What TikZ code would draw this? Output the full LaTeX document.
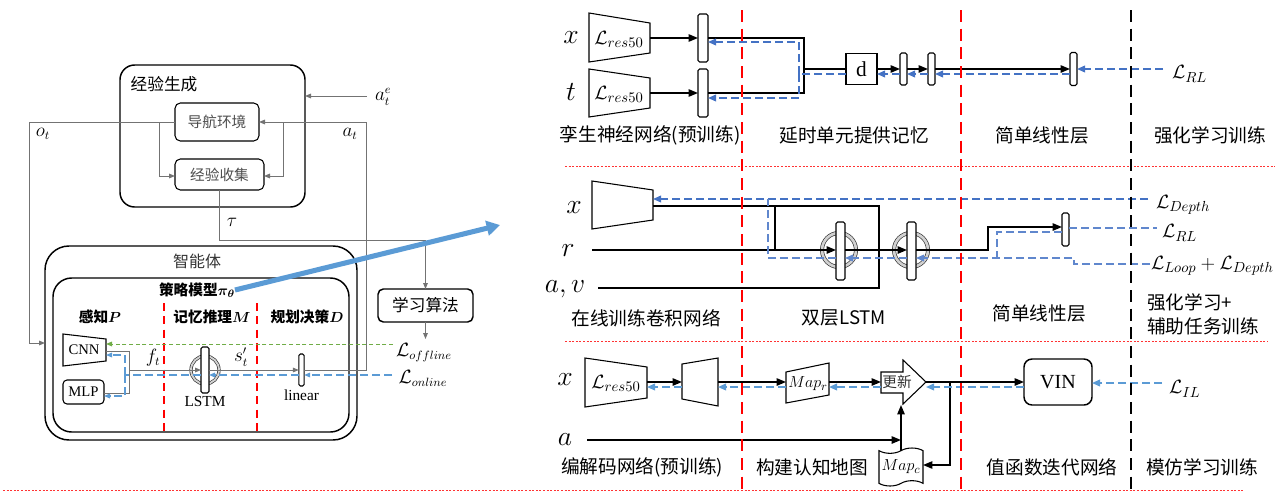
\documentclass[tikz,border=0pt]{standalone}
\usepackage{fontspec}
\usepackage{bm}
\setmainfont{Liberation Serif}
\newfontfamily\cjk{Noto Sans CJK SC}
\usetikzlibrary{arrows.meta,shapes.symbols}
\definecolor{lineblue}{RGB}{68,114,196}
\definecolor{lightblue}{RGB}{91,155,213}
\definecolor{offgreen}{RGB}{112,173,71}
\definecolor{guidered}{RGB}{255,0,0}
% recurrent-loop ring drawn behind an LSTM bar
\newcommand\lstmring[4]{%
  \draw[black!80, line width=#4] (#1,#2) circle[radius=#3];
  \draw[black!18, line width=#4-1pt] (#1,#2) circle[radius=#3];
}
\begin{document}
\begin{tikzpicture}[x=0.75pt,y=-0.75pt,
  every node/.style={inner sep=0pt, outer sep=0pt},
  rowcap/.style={font=\cjk\fontsize{14}{16}\selectfont},
  mlab/.style={font=\fontsize{20}{22}\selectfont},
  lossl/.style={font=\fontsize{15}{17}\selectfont, anchor=west},
  encfont/.style={font=\fontsize{15}{17}\selectfont},
  smallmath/.style={font=\fontsize{13.5}{15}\selectfont},
  bar/.style={draw, fill=white, rounded corners=1.2pt, line width=0.8pt},
  shapeline/.style={draw, line width=0.8pt},
  wire/.style={line width=1.1pt},
  fwd/.style={wire, -{Triangle[length=7pt,width=5.5pt]}},
  barr/.style={-{Triangle[length=6pt,width=5pt]}},
  bd/.style={lineblue, line width=1.1pt, dash pattern=on 6pt off 3pt},
  bdl/.style={lineblue!85, line width=0.9pt, dash pattern=on 6pt off 3pt},
  lbd/.style={lightblue, line width=1.1pt, dash pattern=on 6pt off 3pt},
  gl/.style={draw=black!55, line width=0.7pt},
  garr/.style={-{Triangle[length=4.5pt,width=3.5pt]}},
  vred/.style={guidered, line width=2.2pt, dash pattern=on 9pt off 5pt},
  vblack/.style={black, line width=2.2pt, dash pattern=on 9pt off 5pt},
  lred/.style={guidered, line width=1.5pt, dash pattern=on 6pt off 4pt},
  hsep/.style={guidered!80, line width=0.6pt, dash pattern=on 1.5pt off 1.2pt}
]
\useasboundingbox (0,0) rectangle (1281,500);

% ================= left: experience loop and agent =================
\node[draw, line width=1.1pt, rounded corners=11pt, minimum width=138.75pt, minimum height=106.5pt] (exp) at (212.5,136) {};
\node[font=\cjk\fontsize{12.5}{14}\selectfont] (expt) at (164,84) {经验生成};
\node[draw, rounded corners=4pt, line width=0.8pt, minimum width=63pt, minimum height=28.5pt, font=\cjk\fontsize{11}{13}\selectfont, text=black!70] (nav) at (217,122) {导航环境};
\node[draw, rounded corners=4pt, line width=0.8pt, minimum width=66.75pt, minimum height=23.25pt, font=\cjk\fontsize{11}{13}\selectfont, text=black!70] (col) at (219.5,174.5) {经验收集};

\node[draw, line width=1.1pt, rounded corners=18pt, minimum width=234pt, minimum height=145.5pt] (agent) at (201,343) {};
\node[font=\cjk\fontsize{12}{14}\selectfont, text=black!80] (agt) at (197,261) {智能体};
\node[draw, line width=1.1pt, rounded corners=14pt, minimum width=222pt, minimum height=115.5pt] (policy) at (201,355) {};
\node[font=\cjk\bfseries\fontsize{11}{12}\selectfont] (pol) at (197,290) {策略模型$\bm{\pi_{\theta}}$};

\node[draw, rounded corners=4pt, line width=1.1pt, minimum width=71.25pt, minimum height=24.75pt, font=\cjk\fontsize{12.5}{14}\selectfont] (learn) at (425.5,305.5) {学习算法};
\coordinate (lossout) at (425.5,339);

\draw[lred] (164,303) -- (164,432);
\draw[lred] (257,303) -- (257,432);
\node[font=\cjk\bfseries\fontsize{11}{13}\selectfont] (hp) at (100,317) {感知$\bm{P}$};
\node[font=\cjk\bfseries\fontsize{11}{13}\selectfont] (hm) at (212,317) {记忆推理$\bm{M}$};
\node[font=\cjk\bfseries\fontsize{11}{13}\selectfont] (hd) at (307,317) {规划决策$\bm{D}$};

\draw[line width=0.8pt] (63,334) -- (106,339) -- (106,361) -- (63,366) -- cycle;
\node[font=\fontsize{11}{12}\selectfont] (cnn) at (84,350) {CNN};
\coordinate (cnnR) at (106,350);
\node[draw, rounded corners=3pt, line width=0.8pt, minimum width=30.75pt, minimum height=18pt, font=\fontsize{11}{12}\selectfont] (mlp) at (83.5,392) {MLP};

\lstmring{205}{370}{14}{2.4pt}
\node[bar, minimum width=6pt, minimum height=34.5pt] (lstm) at (205,370) {};
\node[bar, minimum width=4pt, minimum height=24pt] (lin) at (301.5,370) {};
\node[font=\fontsize{11.5}{12}\selectfont] (lstmt) at (205,401) {LSTM};
\node[font=\fontsize{11.5}{12}\selectfont] (lint) at (301.5,395) {linear};

% gray data-flow lines
\coordinate (ae) at (367,96);
\draw[gl,garr] (ae) -- (exp.east |- ae);
\draw[gl,garr] (nav.west) -- (29,122) -- (29,343) -- (agent.west |- 29,343);
\draw[gl,garr] (159,122) -- (159,176) -- (col.west |- 159,176);
\draw[gl,garr] (lin.east) -- (366,370) -- (366,122) -- (nav.east);
\draw[gl,garr] (283,122) -- (283,176) -- (col.east |- 283,176);
\draw[gl,garr] (col.south) -- (219.5,240) -- (425.5,240) -- (learn.north);
\draw[gl,garr] (learn.south) -- (lossout);
\draw[gl] (106,351) -- (129,351) -- (129,393) -- (mlp.east |- 129,393);
\coordinate (fstart) at (129,370);
\draw[gl,garr] (fstart) -- (lstm.west);
\draw[gl,garr] (lstm.east) -- (lin.west);

\node[smallmath, anchor=west] (lae) at (375,97) {$a_t^e$};
\node[smallmath] (lat) at (350,134) {$a_t$};
\node[smallmath] (lot) at (43,134) {$o_t$};
\node[smallmath] (ltau) at (232,222) {$\tau$};
\node[smallmath] (lft) at (153,358) {$f_t$};
\node[smallmath] (lst) at (241,357) {$s_t'$};
\node[smallmath] (loff) at (424,353) {$\mathcal{L}_{offline}$};
\node[smallmath] (lon) at (423,378) {$\mathcal{L}_{online}$};

% training signals
\coordinate (goff) at (393,344);
\draw[offgreen, line width=0.7pt, dash pattern=on 3pt off 2pt, -{Triangle[length=4.5pt,width=3.5pt]}] (goff) -- (cnnR |- goff);
\coordinate (gon) at (392,375);
\draw[lbd, line width=0.8pt, -{Triangle[length=4.5pt,width=3.5pt]}] (gon) -- (lin.east |- gon);
\draw[lbd, line width=0.8pt, -{Triangle[length=4.5pt,width=3.5pt]}] (lin.west |- gon) -- (lstm.east |- gon);
\draw[lbd, line width=0.8pt] (lstm.west |- gon) -- (125,375);
\draw[lbd, line width=0.8pt, -{Triangle[length=4.5pt,width=3.5pt]}] (125,375) -- (125,355) -- (cnnR |- 125,355);
\draw[lbd, line width=0.8pt, -{Triangle[length=4.5pt,width=3.5pt]}] (125,375) -- (125,396) -- (mlp.east |- 125,396);

% link to the detailed panels
\coordinate (panel) at (500,225);
\draw[lightblue, line width=3.8pt, -{Triangle[length=10pt,width=11pt]}] (pol.east) -- (panel);

% ================= row 1: siamese network =================
\node[mlab] (x1) at (571,38) {$x$};
\node[mlab] (t1) at (571,92) {$t$};
\draw[shapeline] (589,13) -- (650,23) -- (650,53) -- (589,62) -- cycle;
\node[encfont] (enc1) at (619,39) {$\mathcal{L}_{res50}$};
\draw[shapeline] (589,69) -- (650,78) -- (650,108) -- (589,117) -- cycle;
\node[encfont] (enc2) at (619,94) {$\mathcal{L}_{res50}$};
\coordinate (enc1o) at (650,38);
\coordinate (enc2o) at (650,93);
\node[bar, minimum width=7.5pt, minimum height=36pt] (b1) at (703,38) {};
\node[bar, minimum width=7.5pt, minimum height=36pt] (b2) at (703,93) {};
\node[draw, line width=1.1pt, minimum width=23.25pt, minimum height=23.25pt, font=\fontsize{16}{17}\selectfont] (d) at (861.5,69) {d};
\node[bar, minimum width=5.25pt, minimum height=24pt] (b3) at (903.5,69) {};
\node[bar, minimum width=5.25pt, minimum height=24pt] (b4) at (931.5,69) {};
\node[bar, minimum width=5.25pt, minimum height=24.75pt] (b5) at (1073.5,69) {};

\draw[fwd] (enc1o) -- (b1.west);
\draw[fwd] (enc2o) -- (b2.west);
\draw[wire] (b1.east) -- (804,38) -- (804,93) -- (b2.east);
\draw[wire] (804,69) -- (d.west);
\draw[fwd] (d.east) -- (b3.west);
\draw[fwd] (b3.east) -- (b4.west);
\draw[fwd] (b4.east) -- (b5.west);

\draw[bd] (d.west |- 0,74) -- (799,74);
\draw[bd,barr] (799,74) -- (799,42) -- (b1.east |- 0,42);
\draw[bd,barr] (799,74) -- (799,98) -- (b2.east |- 0,98);
\draw[bd,barr] (b5.west |- 0,74) -- (b4.east |- 0,74);
\draw[bd,barr] (b4.west |- 0,74) -- (b3.east |- 0,74);
\draw[bd,barr] (b3.west |- 0,74) -- (d.east |- 0,74);
\coordinate (lrl1) at (1163,69);
\draw[bd,barr] (lrl1) -- (b5.east);
\node[lossl] (lrl1t) at (1172,74) {$\mathcal{L}_{RL}$};

\node[rowcap] (c11) at (650,135) {孪生神经网络(预训练)};
\node[rowcap] (c12) at (854,135) {延时单元提供记忆};
\node[rowcap] (c13) at (1042,135) {简单线性层};
\node[rowcap] (c14) at (1210,135) {强化学习训练};

% ================= row 2: online CNN + two-layer LSTM =================
\node[mlab] (x2) at (574,208) {$x$};
\node[mlab] (r2) at (568,251) {$r$};
\node[mlab] (av2) at (565,289) {$a,v$};
\draw[shapeline] (592,181) -- (653,190) -- (653,220) -- (592,229) -- cycle;
\coordinate (enc3o) at (653,206);
\coordinate (enc3i) at (653,199);
\coordinate (rin) at (592,250);
\coordinate (avin) at (598,288);

\lstmring{839}{250}{17}{3pt}
\lstmring{911}{250}{17}{3pt}
\node[bar, minimum width=6.75pt, minimum height=43.5pt] (l1) at (840.5,251) {};
\node[bar, minimum width=6.75pt, minimum height=43.5pt] (l2) at (911.5,251) {};
\node[bar, minimum width=5.25pt, minimum height=24.75pt] (b6) at (1065.5,229.5) {};

\draw[wire] (enc3o) -- (879,206) -- (879,288) -- (avin);
\draw[wire] (775,206) -- (775,250);
\draw[fwd] (rin) -- (l1.west |- 0,250);
\draw[fwd] (l1.east |- 0,250) -- (l2.west |- 0,250);
\draw[fwd] (l2.east |- 0,250) -- (988,250) -- (988,227) -- (b6.west |- 0,227);

\coordinate (ldep) at (1148,199);
\draw[bd,barr] (ldep) -- (enc3i);
\draw[bdl] (b6.east |- 0,228) -- (1157,228);
\draw[bdl] (b6.west |- 0,232) -- (997,232) -- (997,258);
\coordinate (lloop) at (1150,264);
\draw[bdl,barr] (lloop) -- (1074,264) -- (1074,258) -- (l2.east |- 0,258);
\draw[bdl,barr] (l2.west |- 0,258) -- (l1.east |- 0,258);
\draw[bdl] (l1.west |- 0,258) -- (768,258) -- (768,199);

\node[lossl] (ldept) at (1156,205) {$\mathcal{L}_{Depth}$};
\node[lossl] (lrl2t) at (1162,233) {$\mathcal{L}_{RL}$};
\node[lossl] (llt) at (1151,266) {$\mathcal{L}_{Loop}+\mathcal{L}_{Depth}$};

\node[rowcap] (c21) at (646,318) {在线训练卷积网络};
\node[rowcap] (c22) at (844,318) {双层LSTM};
\node[rowcap] (c23) at (1039,313) {简单线性层};
\node[rowcap, anchor=west] (c24a) at (1147,302) {强化学习+};
\node[rowcap, anchor=west] (c24b) at (1147,326) {辅助任务训练};

% ================= row 3: cognitive map + VIN =================
\node[mlab] (x3) at (565,380) {$x$};
\node[mlab] (a3) at (565,440) {$a$};
\draw[shapeline] (585,358) -- (647,367) -- (647,398) -- (585,407) -- cycle;
\node[encfont] (enc4) at (616,383) {$\mathcal{L}_{res50}$};
\draw[shapeline] (682,364) -- (718,358) -- (718,406) -- (682,399) -- cycle;
\draw[shapeline] (786,372) -- (829,363) -- (829,395) -- (786,403) -- cycle;
\node[font=\fontsize{13}{14}\selectfont] (mapr) at (808,384) {$Map_r$};
\coordinate (Ao) at (647,382);
\coordinate (Bi) at (682,382);
\coordinate (Bo) at (718,382);
\coordinate (Mi) at (786,382);
\coordinate (Mo) at (829,382);

\draw[line width=0.8pt, fill=white] (881,372) -- (903,372) -- (903,360) -- (926,382) -- (903,404) -- (903,393) -- (881,393) -- cycle;
\node[font=\cjk\fontsize{11}{13}\selectfont, text=black!80] (upd) at (897,382) {更新};
\coordinate (updin) at (881,382);
\coordinate (updtip) at (926,382);
\coordinate (updlow) at (900,405);

\node[tape, draw, line width=0.8pt, tape bend height=4pt, minimum width=33pt, minimum height=28.5pt, font=\fontsize{13}{14}\selectfont] (mapc) at (901,467) {$Map_c$};
\node[draw, rounded corners=6pt, line width=1.1pt, minimum width=51pt, minimum height=34.5pt, font=\fontsize{15}{16}\selectfont] (vin) at (1058,382) {VIN};

\draw[fwd] (Ao) -- (Bi);
\draw[fwd] (Bo) -- (Mi);
\draw[fwd] (Mo) -- (updin);
\coordinate (ain) at (587,440);
\draw[fwd] (ain) -- (mapc.north |- ain);
\draw[fwd] (mapc.north) -- (mapc.north |- updlow);
\draw[fwd] (updtip) -- (vin.west);
\draw[wire, -{Triangle[length=7pt,width=5.5pt]}] (950,382) -- (950,465) -- (mapc.east |- 950,465);

\draw[lbd,barr] (vin.west |- 0,387) -- (updtip |- 0,387);
\draw[lbd,barr] (updin |- 0,387) -- (Mo |- 0,387);
\draw[lbd,barr] (Mi |- 0,387) -- (Bo |- 0,387);
\draw[lbd,barr] (Bi |- 0,387) -- (Ao |- 0,387);
\coordinate (lil) at (1162,383);
\draw[lbd,barr] (lil) -- (vin.east |- lil);
\node[lossl] (lilt) at (1169,389) {$\mathcal{L}_{IL}$};

\node[rowcap] (c31) at (642,467) {编解码网络(预训练)};
\node[rowcap] (c32) at (812,467) {构建认知地图};
\node[rowcap] (c33) at (1052,467) {值函数迭代网络};
\node[rowcap] (c34) at (1202,467) {模仿学习训练};

% ================= panel separators =================
\draw[hsep] (565,166) -- (1275,166);
\draw[hsep] (565,341) -- (1268,341);
\draw[hsep] (3,490) -- (1245,490);
\draw[vred] (742,10) -- (742,495);
\draw[vred] (961,10) -- (961,495);
\draw[vblack] (1131,10) -- (1131,495);
\end{tikzpicture}
\end{document}
